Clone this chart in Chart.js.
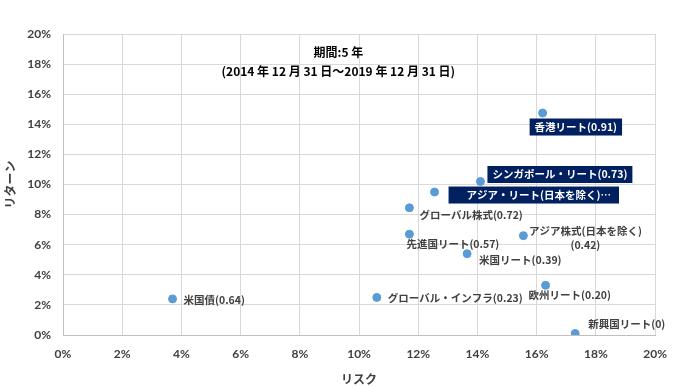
<!DOCTYPE html>
<html>
<head>
<meta charset="utf-8">
<script src="https://cdn.jsdelivr.net/npm/chart.js@4"></script>
<style>
  html, body { margin: 0; padding: 0; background: #fff; }
  #wrap { width: 679px; height: 387px; }
</style>
</head>
<body>
<div id="wrap"><canvas id="chart" width="679" height="387"></canvas></div>
<script>
// Risk / return data (percent)
const names = [
  "香港リート(0.91)",
  "シンガポール・リート(0.73)",
  "アジア・リート(日本を除く)…",
  "グローバル株式(0.72)",
  "先進国リート(0.57)",
  "アジア株式(日本を除く)\n(0.42)",
  "米国リート(0.39)",
  "米国債(0.64)",
  "グローバル・インフラ(0.23)",
  "欧州リート(0.20)",
  "新興国リート(0)",
];
const risk = [16.2, 14.1, 12.55, 11.7, 11.7, 15.55, 13.65, 3.7, 10.6, 16.3, 17.3];
const ret = [14.75, 10.2, 9.5, 8.45, 6.7, 6.6, 5.4, 2.4, 2.5, 3.3, 0.1];
const xTicks = [0, 2, 4, 6, 8, 10, 12, 14, 16, 18, 20];
const yTicks = [0, 2, 4, 6, 8, 10, 12, 14, 16, 18, 20];

// label placement: [dx, dy, align, boxed]
const labelPlace = [
  [-8, 14, "left", true],
  [12, -7, "left", true],
  [32, 3, "left", true],
  [10, 7, "left", false],
  [-3, 10, "left", false],
  [62, -5, "center", false],
  [12, 6, "left", false],
  [11, 1, "left", false],
  [11, 1, "left", false],
  [-17, 10, "left", false],
  [13, -9, "left", false],
];

const jpFont = '"Noto Sans CJK JP", "Noto Sans", sans-serif';

const labelPlugin = {
  id: "pointLabels",
  afterDatasetsDraw(chart) {
    const ctx = chart.ctx;
    const xs = chart.scales.x;
    const ys = chart.scales.y;
    ctx.save();
    ctx.font = "bold 10.5px " + jpFont;
    ctx.textBaseline = "middle";
    for (let i = 0; i < names.length; i++) {
      const px = xs.getPixelForValue(risk[i]);
      const py = ys.getPixelForValue(ret[i]);
      const [dx, dy, align, boxed] = labelPlace[i];
      const lines = names[i].split("\n");
      const tx = px + dx;
      const ty = py + dy;
      if (boxed) {
        const w = ctx.measureText(lines[0]).width;
        const padL = i === 2 ? 18 : 5;
        const padR = i === 2 ? 8 : 5;
        ctx.fillStyle = "#002060";
        ctx.fillRect(tx - padL, ty - 8.5, w + padL + padR, 17);
        ctx.fillStyle = "#ffffff";
      } else {
        ctx.fillStyle = "#404040";
      }
      ctx.textAlign = align;
      lines.forEach((ln, k) => ctx.fillText(ln, tx, ty + k * 14));
    }

    // period caption inside the plot
    ctx.fillStyle = "#000000";
    ctx.font = "bold 12px " + jpFont;
    ctx.textAlign = "center";
    const cx = chart.chartArea.left + (chart.chartArea.right - chart.chartArea.left) * 0.465;
    ctx.fillText("期間:5 年", cx, chart.chartArea.top + 18);
    ctx.fillText("(2014 年 12 月 31 日～2019 年 12 月 31 日)", cx, chart.chartArea.top + 37);
    ctx.restore();
  },
};

new Chart(document.getElementById("chart"), {
  type: "scatter",
  data: {
    datasets: [
      {
        data: risk.map((r, i) => ({ x: r, y: ret[i] })),
        backgroundColor: "#5b9bd5",
        borderColor: "#5b9bd5",
        pointRadius: 4,
        pointHoverRadius: 4,
      },
    ],
  },
  options: {
    responsive: false,
    animation: false,
    layout: { padding: { top: 34, right: 22, left: 0, bottom: 0 } },
    plugins: { legend: { display: false }, tooltip: { enabled: false } },
    scales: {
      x: {
        min: 0,
        max: 20,
        afterBuildTicks: (s) => { s.ticks = xTicks.map((v) => ({ value: v })); },
        afterFit: (s) => { s.height = 52; },
        grid: { color: "#d9d9d9", drawTicks: false },
        border: { color: "#bfbfbf" },
        ticks: {
          padding: 12,
          color: "#404040",
          font: { family: "Lato", size: 12, weight: "bold" },
          callback: (v) => v + "%",
        },
        title: {
          display: true,
          text: "リスク",
          color: "#404040",
          font: { family: jpFont, size: 12, weight: "bold" },
          padding: { top: 4, bottom: 0 },
        },
      },
      y: {
        min: 0,
        max: 20,
        afterBuildTicks: (s) => { s.ticks = yTicks.map((v) => ({ value: v })); },
        afterFit: (s) => { s.width = 63; },
        grid: { color: "#d9d9d9", drawTicks: false },
        border: { color: "#bfbfbf" },
        ticks: {
          padding: 12,
          color: "#404040",
          font: { family: "Lato", size: 12, weight: "bold" },
          callback: (v) => v + "%",
        },
        title: {
          display: true,
          text: "リターン",
          color: "#404040",
          font: { family: jpFont, size: 12, weight: "bold" },
          padding: { top: 3, bottom: 0 },
        },
      },
    },
  },
  plugins: [labelPlugin],
});
</script>
</body>
</html>
